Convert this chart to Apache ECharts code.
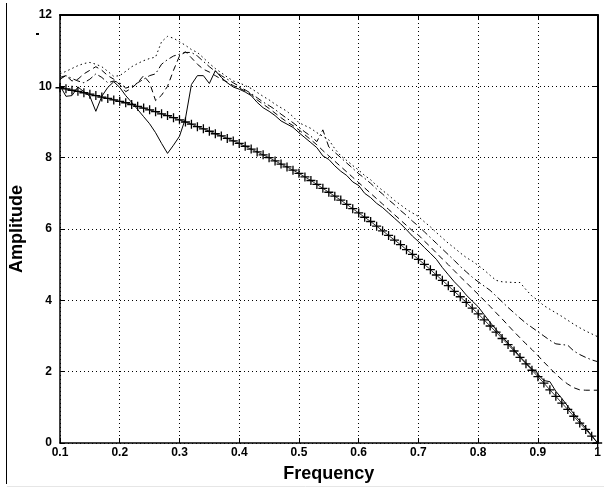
<!DOCTYPE html>
<html>
<head>
<meta charset="utf-8">
<script src="https://cdn.jsdelivr.net/npm/echarts@6/dist/echarts.min.js"></script>
<style>
html,body{margin:0;padding:0;background:#fff;}
#chart{width:604px;height:488px;}
</style>
</head>
<body>
<div id="chart"></div>
<script>
// Frequency grid (0.10 .. 1.00, step 0.01)
const freq = [0.10,0.11,0.12,0.13,0.14,0.15,0.16,0.17,0.18,0.19,
0.20,0.21,0.22,0.23,0.24,0.25,0.26,0.27,0.28,0.29,
0.30,0.31,0.32,0.33,0.34,0.35,0.36,0.37,0.38,0.39,
0.40,0.41,0.42,0.43,0.44,0.45,0.46,0.47,0.48,0.49,
0.50,0.51,0.52,0.53,0.54,0.55,0.56,0.57,0.58,0.59,
0.60,0.61,0.62,0.63,0.64,0.65,0.66,0.67,0.68,0.69,
0.70,0.71,0.72,0.73,0.74,0.75,0.76,0.77,0.78,0.79,
0.80,0.81,0.82,0.83,0.84,0.85,0.86,0.87,0.88,0.89,
0.90,0.91,0.92,0.93,0.94,0.95,0.96,0.97,0.98,0.99,1.00];

// '+' marker curve
const crossVals = [9.96,9.93,9.89,9.86,9.82,9.78,9.74,9.70,9.66,9.62,
9.58,9.54,9.49,9.44,9.39,9.34,9.29,9.23,9.18,9.12,
9.06,9.00,8.94,8.87,8.81,8.74,8.67,8.61,8.54,8.47,
8.40,8.32,8.24,8.16,8.08,8.00,7.91,7.82,7.74,7.65,
7.56,7.46,7.36,7.25,7.14,7.03,6.92,6.81,6.69,6.57,
6.45,6.33,6.21,6.08,5.95,5.82,5.69,5.56,5.42,5.29,
5.15,5.01,4.86,4.71,4.56,4.41,4.25,4.10,3.94,3.78,
3.62,3.45,3.28,3.11,2.93,2.76,2.58,2.40,2.22,2.04,
1.86,1.68,1.49,1.31,1.12,0.94,0.75,0.56,0.38,0.19,0.00];

// solid line
const solidVals = [10.02,9.72,9.74,9.98,9.85,9.72,9.30,9.72,9.97,10.13,
9.97,9.74,9.55,9.35,9.15,8.95,8.70,8.40,8.12,8.35,
8.60,9.10,10.05,10.30,10.30,10.08,10.44,10.25,10.10,9.98,
9.92,9.84,9.74,9.55,9.40,9.30,9.18,9.03,8.94,8.85,
8.70,8.56,8.42,8.28,8.05,7.95,7.77,7.62,7.50,7.32,
7.22,7.00,6.88,6.72,6.60,6.45,6.30,6.15,5.98,5.80,
5.65,5.48,5.32,5.15,4.92,4.72,4.52,4.35,4.15,3.98,
3.82,3.60,3.38,3.18,2.98,2.80,2.62,2.42,2.25,2.08,
1.93,1.75,1.72,1.45,1.25,1.03,0.82,0.62,0.42,0.21,0.00];

// dashed line
const dashedVals = [10.20,10.30,10.15,10.20,10.35,10.45,10.55,10.45,10.30,10.20,
10.05,9.85,9.95,10.10,10.30,10.10,9.60,9.75,10.00,10.45,
10.85,10.97,10.80,10.62,10.48,10.40,10.30,10.20,10.12,10.02,
9.95,9.87,9.77,9.62,9.50,9.38,9.25,9.12,9.00,8.90,
8.78,8.64,8.50,8.36,8.20,8.05,7.90,7.75,7.60,7.45,
7.30,7.15,7.00,6.85,6.70,6.55,6.40,6.25,6.10,5.95,
5.83,5.66,5.50,5.33,5.16,5.00,4.83,4.66,4.50,4.33,
4.17,4.00,3.83,3.65,3.48,3.30,3.12,2.95,2.78,2.62,
2.45,2.27,2.10,1.93,1.78,1.65,1.55,1.49,1.48,1.48,1.48];

// dash-dot line
const dashDotVals = [10.25,10.30,10.22,10.15,10.10,10.20,10.35,10.25,10.10,10.15,
10.10,9.95,10.00,10.10,10.20,10.30,10.35,10.62,10.75,10.85,
10.90,10.95,10.95,10.85,10.70,10.55,10.42,10.30,10.20,10.10,
10.00,9.90,9.80,9.68,9.56,9.46,9.35,9.22,9.10,8.98,
8.85,8.72,8.60,8.45,8.78,8.30,8.15,8.00,7.85,7.70,
7.55,7.42,7.28,7.12,6.98,6.82,6.68,6.52,6.38,6.22,
6.08,5.92,5.76,5.60,5.44,5.28,5.12,4.95,4.80,4.65,
4.52,4.40,4.28,4.12,3.96,3.80,3.65,3.50,3.36,3.24,
3.12,3.00,2.88,2.78,2.76,2.74,2.58,2.48,2.40,2.33,2.28];

// dotted line
const dottedVals = [10.35,10.42,10.50,10.58,10.64,10.67,10.62,10.55,10.42,10.28,
10.30,10.42,10.55,10.64,10.72,10.78,10.82,11.25,11.40,11.35,
11.25,11.15,11.03,10.95,10.80,10.64,10.50,10.38,10.26,10.15,
10.10,10.02,9.94,9.83,9.72,9.62,9.50,9.40,9.30,9.15,
8.98,8.90,8.82,8.70,8.60,8.50,8.25,8.05,7.92,7.78,
7.65,7.50,7.38,7.22,7.08,6.95,6.80,6.68,6.55,6.45,
6.35,6.20,6.06,5.90,5.75,5.60,5.47,5.33,5.20,5.10,
4.98,4.85,4.70,4.56,4.52,4.51,4.50,4.50,4.30,4.12,
4.00,3.85,3.75,3.65,3.55,3.44,3.33,3.23,3.14,3.06,2.98];

const xTicks = {min: 0.1, max: 1, interval: 0.1};
const yTicks = {min: 0, max: 12, interval: 2};

const pair = arr => freq.map((f, i) => [f, arr[i]]);
const FONT = 'Liberation Sans, Arial, sans-serif';

const chart = echarts.init(document.getElementById('chart'), null, {renderer: 'canvas'});
const gridLine = {show: true, lineStyle: {color: '#000', type: [1, 3], width: 1}};
const lineSeries = (name, arr, type) => ({
  name, type: 'line', data: pair(arr), symbol: 'none', silent: true, animation: false,
  lineStyle: {color: '#000', width: 1, type}, z: 3
});

chart.setOption({
  animation: false,
  backgroundColor: '#fff',
  grid: {left: 55, right: 4, top: 15, bottom: 43, containLabel: false},
  xAxis: [{
    type: 'value', min: xTicks.min, max: xTicks.max, interval: xTicks.interval,
    name: 'Frequency', nameLocation: 'middle', nameGap: 22,
    nameTextStyle: {fontFamily: FONT, fontWeight: 'bold', fontSize: 18, color: '#000'},
    axisLine: {show: true, onZero: false, lineStyle: {color: '#000', width: 1.5}},
    axisTick: {show: true, inside: true, length: 5, lineStyle: {color: '#000'}},
    axisLabel: {fontFamily: FONT, fontWeight: 'bold', fontSize: 12, color: '#000', margin: 4,
      formatter: v => String(+(+v).toFixed(1))},
    splitLine: gridLine
  }, {
    type: 'value', position: 'top', min: xTicks.min, max: xTicks.max, interval: xTicks.interval,
    axisLine: {show: true, onZero: false, lineStyle: {color: '#000', width: 2}},
    axisTick: {show: true, inside: true, length: 5, lineStyle: {color: '#000'}},
    axisLabel: {show: false}, splitLine: {show: false}
  }],
  yAxis: [{
    type: 'value', min: yTicks.min, max: yTicks.max, interval: yTicks.interval,
    name: 'Amplitude', nameLocation: 'middle', nameGap: 34,
    nameTextStyle: {fontFamily: FONT, fontWeight: 'bold', fontSize: 18, color: '#000'},
    axisLine: {show: true, onZero: false, lineStyle: {color: '#000', width: 1.5}},
    axisTick: {show: true, inside: true, length: 5, lineStyle: {color: '#000'}},
    axisLabel: {fontFamily: FONT, fontWeight: 'bold', fontSize: 12, color: '#000', margin: 8},
    splitLine: gridLine
  }, {
    type: 'value', position: 'right', min: yTicks.min, max: yTicks.max, interval: yTicks.interval,
    axisLine: {show: true, onZero: false, lineStyle: {color: '#000', width: 2}},
    axisTick: {show: true, inside: true, length: 5, lineStyle: {color: '#000'}},
    axisLabel: {show: false}, splitLine: {show: false}
  }],
  graphic: [
    {type: 'line', shape: {x1: 6.5, y1: 3, x2: 6.5, y2: 484}, style: {stroke: '#000', lineWidth: 1}},
    {type: 'line', shape: {x1: 7, y1: 486.5, x2: 604, y2: 486.5}, style: {stroke: '#e6e6e6', lineWidth: 1}},
    {type: 'rect', shape: {x: 36, y: 33, width: 3, height: 2}, style: {fill: '#000'}}
  ],
  series: [
    {
      name: 'cross', type: 'line', data: pair(crossVals), silent: true, animation: false,
      symbol: 'path://M5,0 L5,10 M0,5 L10,5', symbolSize: 9, showSymbol: true, showAllSymbol: true,
      itemStyle: {color: 'rgba(0,0,0,0)', borderColor: '#000', borderWidth: 1.3},
      lineStyle: {color: '#000', width: 0.8}, z: 2
    },
    lineSeries('solid', solidVals, 'solid'),
    lineSeries('dashed', dashedVals, [6, 4]),
    lineSeries('dashdot', dashDotVals, [7, 3, 1.5, 3]),
    lineSeries('dotted', dottedVals, [1.5, 3])
  ]
});
</script>
</body>
</html>
